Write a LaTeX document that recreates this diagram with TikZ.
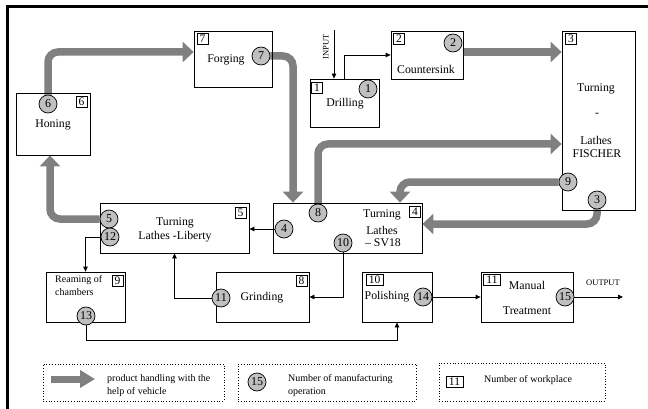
\documentclass[tikz,border=0pt]{standalone}
\usepackage{fontspec}
\setmainfont{Liberation Serif}
\usetikzlibrary{arrows.meta,backgrounds}
\definecolor{heavygray}{HTML}{808080}
\definecolor{opgray}{HTML}{C0C0C0}
\begin{document}
\begin{tikzpicture}[x=1pt,y=-1pt,
  wbox/.style={draw, line width=0.8pt, inner sep=0pt},
  numsq/.style={draw, line width=0.7pt, inner sep=0pt, minimum height=11pt, minimum width=11pt, font=\fontsize{11.5}{11}\selectfont},
  opc/.style={circle, draw, line width=0.7pt, fill=opgray, inner sep=0pt, minimum size=18pt, font=\fontsize{12}{12}\selectfont},
  lbl/.style={inner sep=0pt, font=\fontsize{11.8}{13}\selectfont, align=center},
  small/.style={inner sep=0pt, font=\fontsize{10}{13}\selectfont, align=left},
  tiny/.style={inner sep=0pt, font=\fontsize{8.5}{9}\selectfont},
  heavy/.style={draw=heavygray, line width=7.5pt, rounded corners=10pt, -{Triangle[length=11pt,width=20pt]}},
  thinarrow/.style={draw, line width=0.8pt, -{Triangle[length=5pt,width=4.5pt]}},
  legbox/.style={draw, dotted, line width=0.8pt, inner sep=0pt}
]
\useasboundingbox (0,0) rectangle (648,409);
% frame
\draw[line width=3pt] (7,409) -- (7,7) -- (648,7);

% boxes
\node[wbox, minimum width=78pt, minimum height=56pt] (forging) at (233,59) {};
\node[wbox, minimum width=74pt, minimum height=62pt] (honing) at (53,124) {};
\node[wbox, minimum width=69pt, minimum height=48pt] (drilling) at (344.5,103) {};
\node[wbox, minimum width=72pt, minimum height=48pt] (counter) at (427,55) {};
\node[wbox, minimum width=73pt, minimum height=179pt] (fischer) at (598.5,120.5) {};
\node[wbox, minimum width=149pt, minimum height=50pt] (sv18) at (347.5,228) {};
\node[wbox, minimum width=149pt, minimum height=50pt] (liberty) at (174.5,228) {};
\node[wbox, minimum width=79pt, minimum height=50pt] (reaming) at (85.5,297) {};
\node[wbox, minimum width=93pt, minimum height=50pt] (grinding) at (262.5,297) {};
\node[wbox, minimum width=70pt, minimum height=50pt] (polishing) at (397,297) {};
\node[wbox, minimum width=92pt, minimum height=50pt] (manual) at (527,297) {};

% workplace numbers
\node[numsq] (w7) at (202.5,39) {7};
\node[numsq] (w6) at (81.5,101.5) {6};
\node[numsq] (w1) at (317,87.5) {1};
\node[numsq] (w2) at (399,39) {2};
\node[numsq] (w3) at (571,39) {3};
\node[numsq] (w4) at (415,211.5) {4};
\node[numsq] (w5) at (240.5,213) {5};
\node[numsq] (w9) at (117.5,281) {9};
\node[numsq] (w8) at (301.5,281) {8};
\node[numsq, minimum width=17pt] (w10) at (374.5,279.5) {10};
\node[numsq, minimum width=17pt] (w11) at (492,279.5) {11};

% box texts
\node[lbl] (tforging) at (226,60) {Forging};
\node[lbl] (thoning) at (53,125) {Honing};
\node[lbl] (tdrilling) at (345,104) {Drilling};
\node[lbl] (tcounter) at (426,69) {Countersink};
\node[lbl] (tf1) at (596,89) {Turning};
\node[lbl] (tf2) at (597,115) {-};
\node[lbl] (tf3) at (596,140) {Lathes};
\node[lbl] (tf4) at (597,154) {FISCHER};
\node[lbl] (ts1) at (382,215) {Turning};
\node[lbl] (ts2) at (382,230) {Lathes};
\node[lbl] (ts3) at (383,243) {– SV18};
\node[lbl] (tl1) at (175,223) {Turning};
\node[lbl] (tl2) at (175,237) {Lathes -Liberty};
\node[small, anchor=west] (tr1) at (55,280) {Reaming of};
\node[small, anchor=west] (tr2) at (55,292) {chambers};
\node[lbl] (tgrinding) at (262,298) {Grinding};
\node[lbl] (tpolishing) at (387,297) {Polishing};
\node[lbl] (tm1) at (527,285) {Manual};
\node[lbl] (tm2) at (527,311) {Treatment};
\node[tiny] (toutput) at (603,283) {OUTPUT};
\node[tiny, rotate=90] (tinput) at (326,47) {INPUT};

% operation circles
\node[opc] (c7) at (261,56) {7};
\node[opc] (c6) at (48,104) {6};
\node[opc] (c1) at (368,89) {1};
\node[opc] (c2) at (453,43) {2};
\node[opc] (c9) at (568,182) {9};
\node[opc] (c3) at (597,200) {3};
\node[opc] (c8) at (318,213) {8};
\node[opc] (c4) at (284,229) {4};
\node[opc] (c10) at (343,243) {10};
\node[opc] (c5) at (109,219) {5};
\node[opc] (c12) at (110,237) {12};
\node[opc] (c13) at (86,316) {13};
\node[opc] (c11) at (221,298) {11};
\node[opc] (c14) at (423,297) {14};
\node[opc] (c15) at (565,297) {15};

% bend coordinates
\coordinate (b6) at (48,52);
\coordinate (b7) at (293,56);
\coordinate (b2) at (463,52);
\coordinate (b8) at (318,144);
\coordinate (b9) at (400,182);
\coordinate (b3) at (597,224);
\coordinate (b5) at (50,219);
\coordinate (in) at (334,30);
\coordinate (b13) at (86,340);
\coordinate (out) at (623,297);

% heavy vehicle arrows
\begin{scope}[on background layer]
\draw[heavy] (c6.north) -- (b6) -- (forging.west |- b6);
\draw[heavy] (c7.east) -- (b7) -- (b7 |- sv18.north);
\draw[heavy] (counter.east |- b2) -- (fischer.west |- b2);
\draw[heavy] (c8.north) -- (b8) -- (fischer.west |- b8);
\draw[heavy] (c9.west) -- (b9) -- (b9 |- sv18.north);
\draw[heavy] (c3.south) -- (b3) -- (sv18.east |- b3);
\draw[heavy] (c5.west) -- (b5) -- (b5 |- honing.south);
\end{scope}

% thin arrows
\draw[thinarrow] (in) -- (in |- drilling.north);
\draw[thinarrow] (drilling.north) |- (counter.west);
\draw[thinarrow] (c4.west) -- (liberty.east |- c4.west);
\draw[thinarrow] (c12.west) -| (reaming.north);
\draw[thinarrow] (c11.west) -| (liberty.south);
\draw[thinarrow] (c10.south) |- (grinding.east);
\draw[thinarrow] (c13.south) -- (b13) -| (polishing.south);
\draw[thinarrow] (c14.east) -- (manual.west |- c14.east);
\draw[thinarrow] (c15.east) -- (out);

% legend
\node[legbox, minimum width=181pt, minimum height=37pt] (legA) at (133.5,382.5) {};
\node[legbox, minimum width=178pt, minimum height=37pt] (legB) at (327,382.5) {};
\node[legbox, minimum width=166pt, minimum height=38pt] (legC) at (522,382) {};
\coordinate (la1) at (51,379);
\coordinate (la2) at (95,379);
\draw[heavy, line width=7pt, -{Triangle[length=15pt,width=17pt]}] (la1) -- (la2);
\node[small, anchor=west] (legAt) at (107,385.5) {product handling with the\\help of vehicle};
\node[opc] (lc15) at (257,382) {15};
\node[small, anchor=west] (legBt) at (288,385.5) {Number of manufacturing\\operation};
\node[numsq, minimum width=17pt] (lw11) at (454.5,381.5) {11};
\node[small, anchor=west] (legCt) at (484,380) {Number of workplace};
\end{tikzpicture}
\end{document}
